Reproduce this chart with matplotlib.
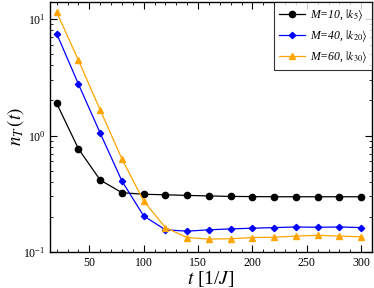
import numpy as np
import matplotlib
matplotlib.use('Agg')
import matplotlib.pyplot as plt
from matplotlib.ticker import MultipleLocator, LogLocator, NullFormatter

plt.rcParams['font.family'] = ['Liberation Serif', 'DejaVu Serif']
plt.rcParams['mathtext.fontset'] = 'stix'

# data
t = [20, 40, 60, 80, 100, 120, 140, 160, 180, 200, 220, 240, 260, 280, 300]
n_m10 = [1.89, 0.77, 0.415, 0.323, 0.313, 0.310, 0.306, 0.303, 0.300, 0.299,
         0.298, 0.298, 0.298, 0.298, 0.298]
n_m40 = [7.5, 2.77, 1.05, 0.407, 0.204, 0.155, 0.151, 0.155, 0.158, 0.160,
         0.162, 0.164, 0.163, 0.164, 0.162]
n_m60 = [11.5, 4.43, 1.66, 0.63, 0.274, 0.162, 0.133, 0.129, 0.130, 0.133,
         0.134, 0.137, 0.139, 0.137, 0.135]
labels = [r'M=10, $|k_{5}\rangle$',
          r'M=40, $|k_{20}\rangle$',
          r'M=60, $|k_{30}\rangle$']

fig = plt.figure(figsize=(3.74, 2.88), dpi=100)
ax = fig.add_axes([0.134, 0.125, 0.861, 0.868])

ax.plot(t, n_m10, '-o', color='black', lw=0.9, ms=4.5, label=labels[0])
ax.plot(t, n_m40, '-D', color='blue', lw=0.9, ms=3.2, label=labels[1])
ax.plot(t, n_m60, '-^', color='orange', lw=0.9, ms=4.2, label=labels[2])

ax.set_yscale('log')
ax.set_xlim(14, 310)
ax.set_ylim(0.1, 14)

ax.xaxis.set_major_locator(MultipleLocator(50))
ax.xaxis.set_minor_locator(MultipleLocator(10))
ax.yaxis.set_major_locator(LogLocator(base=10))
ax.yaxis.set_minor_locator(LogLocator(base=10, subs=np.arange(2, 10)))
ax.yaxis.set_minor_formatter(NullFormatter())

ax.tick_params(which='both', direction='in', top=True, right=True, labelsize=8.5)
ax.tick_params(which='major', length=5, width=0.8)
ax.tick_params(which='minor', length=2.5, width=0.6)
for s in ax.spines.values():
    s.set_linewidth(1.0)

ax.set_xlabel(r'$t$ [1/$J$]', fontsize=14, labelpad=0)
ax.set_ylabel(r'$n_T\,(t)$', fontsize=13.5)
ax.yaxis.set_label_coords(-0.075, 0.5)

leg = ax.legend(loc='upper right', frameon=True, fancybox=False,
                prop={'style': 'italic', 'size': 8.5},
                edgecolor='black', borderaxespad=0, handlelength=2.2,
                handletextpad=0.4, labelspacing=0.45, borderpad=0.4)
leg.get_frame().set_linewidth(0.8)

fig.savefig('out.png', dpi=100)
